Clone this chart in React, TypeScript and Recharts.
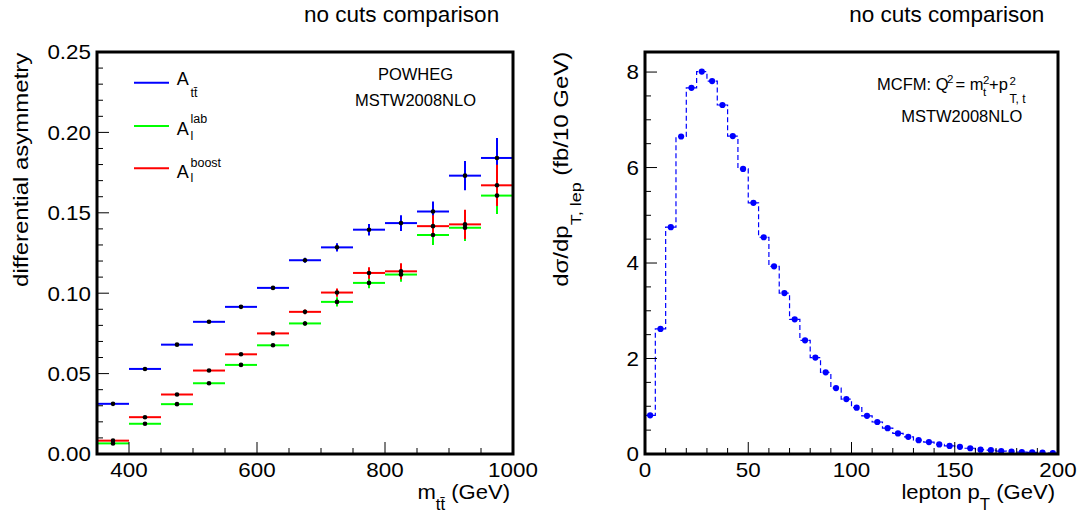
import React from 'react';
import {
  ComposedChart,
  Scatter,
  Line,
  XAxis,
  YAxis,
  ErrorBar,
  Legend,
} from 'recharts';

const FONT = '"Liberation Sans", Arial, Helvetica, sans-serif';

// ---------------- Left panel: differential asymmetry vs m_tt ----------------
const massBinCenters = [375, 425, 475, 525, 575, 625, 675, 725, 775, 825, 875, 925, 975];
const MASS_HALF_BIN = 25;

const asymTT = [0.0312, 0.0529, 0.068, 0.0822, 0.0915, 0.1033, 0.1205, 0.1285, 0.1395, 0.1436, 0.1508, 0.1731, 0.1841];
const asymTTErr = [0.0005, 0.0006, 0.0006, 0.0007, 0.0008, 0.001, 0.0015, 0.0026, 0.0036, 0.0049, 0.0062, 0.0091, 0.0124];

const asymLab = [0.0066, 0.0188, 0.031, 0.044, 0.0554, 0.0676, 0.0812, 0.0946, 0.1064, 0.1116, 0.1362, 0.1407, 0.1607];
const asymLabErr = [0.0005, 0.0006, 0.0006, 0.0007, 0.0008, 0.001, 0.0015, 0.0029, 0.0033, 0.0045, 0.0062, 0.0083, 0.0115];

const asymBoost = [0.0083, 0.0229, 0.037, 0.0519, 0.062, 0.075, 0.0884, 0.1004, 0.1126, 0.1136, 0.1417, 0.1428, 0.1671];
const asymBoostErr = [0.0005, 0.0006, 0.0006, 0.0007, 0.0008, 0.001, 0.0015, 0.0026, 0.0036, 0.005, 0.0068, 0.0091, 0.0128];

const MASS_MIN = 350;
const MASS_MAX = 1000;
const ASYM_MAX = 0.25;
const massMajorTicks = [400, 600, 800, 1000];
const massAllTicks = [400, 450, 500, 550, 600, 650, 700, 750, 800, 850, 900, 950, 1000];
const asymMajorTicks = [0, 0.05, 0.1, 0.15, 0.2, 0.25];
const asymAllTicks = Array.from({ length: 26 }, (_, i) => i / 100);

// ---------------- Right panel: lepton pT distribution ----------------
const ptBinCenters = [
  2.5, 7.5, 12.5, 17.5, 22.5, 27.5, 32.5, 37.5, 42.5, 47.5,
  52.5, 57.5, 62.5, 67.5, 72.5, 77.5, 82.5, 87.5, 92.5, 97.5,
  102.5, 107.5, 112.5, 117.5, 122.5, 127.5, 132.5, 137.5, 142.5, 147.5,
  152.5, 157.5, 162.5, 167.5, 172.5, 177.5, 182.5, 187.5, 192.5, 197.5,
];
const PT_HALF_BIN = 2.5;
const dsigmaDpt = [
  0.81, 2.62, 4.75, 6.65, 7.67, 8.01, 7.81, 7.31, 6.66, 5.97,
  5.26, 4.54, 3.93, 3.37, 2.82, 2.38, 2.02, 1.71, 1.38, 1.15,
  0.97, 0.8, 0.67, 0.54, 0.43, 0.36, 0.29, 0.25, 0.2, 0.17,
  0.15, 0.12, 0.09, 0.08, 0.06, 0.05, 0.04, 0.035, 0.03, 0.02,
];

const PT_MAX = 200;
const XS_MAX = 8.42;
const ptMajorTicks = [0, 50, 100, 150, 200];
const ptAllTicks = Array.from({ length: 21 }, (_, i) => i * 10);
const xsMajorTicks = [0, 2, 4, 6, 8];
const xsAllTicks = Array.from({ length: 17 }, (_, i) => i * 0.5);

// ---------------- data tables ----------------
const buildAsym = (vals: number[], errs: number[]) =>
  massBinCenters.map((m, i) => ({ m, a: vals[i], mErr: MASS_HALF_BIN, aErr: errs[i] }));

const asymSeries = [
  { key: 'tt', name: 'A_tt', color: '#0000ff', data: buildAsym(asymTT, asymTTErr) },
  { key: 'lab', name: 'A_l^lab', color: '#00ff00', data: buildAsym(asymLab, asymLabErr) },
  { key: 'boost', name: 'A_l^boost', color: '#ff0000', data: buildAsym(asymBoost, asymBoostErr) },
];

const ptPoints = ptBinCenters.map((pt, i) => ({ pt, xs: dsigmaDpt[i] }));
const ptStep = [
  ...ptBinCenters.map((pt, i) => ({ pt: pt - PT_HALF_BIN, xs: dsigmaDpt[i] })),
  { pt: ptBinCenters[ptBinCenters.length - 1] + PT_HALF_BIN, xs: dsigmaDpt[dsigmaDpt.length - 1] },
];

// ---------------- layout ----------------
const CHART_H = 514;
const X_AXIS_H = 30;
const Y_AXIS_W = 60;
const LEFT_CHART = { left: 0, width: 540, margin: { top: 52, right: 27, bottom: 30, left: 37 } };
const RIGHT_CHART = { left: 540, width: 545, margin: { top: 52, right: 27, bottom: 30, left: 45 } };

const plotBox = (c: typeof LEFT_CHART) => {
  const x = c.left + c.margin.left + Y_AXIS_W;
  const y = c.margin.top;
  const w = c.width - c.margin.left - Y_AXIS_W - c.margin.right;
  const h = CHART_H - c.margin.top - c.margin.bottom - X_AXIS_H;
  return { x, y, w, h };
};

// ---------------- helpers ----------------
type TxtProps = {
  x: number;
  y: number;
  size: number;
  anchor?: 'start' | 'middle' | 'end';
  rotate?: number;
  sx?: number;
  children?: React.ReactNode;
};
const Txt = ({ x, y, size, anchor = 'start', rotate = 0, sx = 1, children }: TxtProps) => (
  <text
    transform={`translate(${x} ${y}) rotate(${rotate}) scale(${sx} 1)`}
    fontSize={size}
    textAnchor={anchor}
    fontFamily={FONT}
    fill="#000"
  >
    {children}
  </text>
);

const isIn = (arr: number[], v: number) => arr.some((m) => Math.abs(m - v) < 1e-9);

const makeYTick = (majors: number[], fmt: (v: number) => string) => (props: any) => {
  const { x, y, payload } = props;
  const v = payload.value;
  const major = isIn(majors, v);
  return (
    <g>
      <line x1={x} x2={x + (major ? 12 : 6)} y1={y} y2={y} stroke="#000" strokeWidth={1} />
      {major && (
        <Txt x={x - 6} y={y + 7.3} size={20} sx={1.12} anchor="end">
          {fmt(v)}
        </Txt>
      )}
    </g>
  );
};

const makeXTick = (majors: number[], fmt: (v: number) => string) => (props: any) => {
  const { x, y, payload } = props;
  const v = payload.value;
  const major = isIn(majors, v);
  return (
    <g>
      <line x1={x} x2={x} y1={y} y2={y - (major ? 12 : 6)} stroke="#000" strokeWidth={1} />
      {major && (
        <Txt x={x} y={y + 22.7} size={20} sx={1.12} anchor="middle">
          {fmt(v)}
        </Txt>
      )}
    </g>
  );
};

const emptyShape = () => <g />;
const blackMarker = (p: any) => <circle cx={p.cx} cy={p.cy} r={2.3} fill="#000" />;
const blueDot = (p: any) => <circle cx={p.cx} cy={p.cy} r={3.1} fill="#0000ff" />;

const legendLabel = (key: string, color: string) => {
  const rows: Record<string, number> = { tt: 22.7, lab: 66, boost: 108.3 };
  const ly = rows[key];
  return (
    <g key={key}>
      <line x1={14} x2={49} y1={ly} y2={ly} stroke={color} strokeWidth={2} />
      {key === 'tt' && (
        <text fontFamily={FONT} fill="#000">
          <tspan x={56.7} y={ly + 2.5} fontSize={18}>A</tspan>
          <tspan x={70.5} y={ly + 14.5} fontSize={12.5}>{'tt\u0304'}</tspan>
        </text>
      )}
      {key === 'lab' && (
        <text fontFamily={FONT} fill="#000">
          <tspan x={56.7} y={ly + 9} fontSize={18}>A</tspan>
          <tspan x={70.5} y={ly - 2.7} fontSize={12.5}>lab</tspan>
          <tspan x={70.5} y={ly + 14} fontSize={12.5}>l</tspan>
        </text>
      )}
      {key === 'boost' && (
        <text fontFamily={FONT} fill="#000">
          <tspan x={56.7} y={ly + 10} fontSize={18}>A</tspan>
          <tspan x={70.5} y={ly - 1.6} fontSize={12.5}>boost</tspan>
          <tspan x={70.5} y={ly + 13.4} fontSize={12.5}>l</tspan>
        </text>
      )}
    </g>
  );
};

const renderLegend = (props: any) => {
  const payload = (props.payload || []).filter((p: any) => p.type !== 'none');
  return (
    <svg width={140} height={140} style={{ display: 'block', overflow: 'visible' }}>
      {payload.map((p: any) => {
        const s = asymSeries.find((q) => q.name === p.value);
        return s ? legendLabel(s.key, s.color) : null;
      })}
    </svg>
  );
};

const LeftPanel = () => (
  <ComposedChart width={LEFT_CHART.width} height={CHART_H} margin={LEFT_CHART.margin}>
    <XAxis
      type="number"
      dataKey="m"
      domain={[MASS_MIN, MASS_MAX]}
      allowDataOverflow
      ticks={massAllTicks}
      interval={0}
      height={X_AXIS_H}
      tickSize={0}
      tickMargin={0}
      axisLine={false}
      tickLine={false}
      tick={makeXTick(massMajorTicks, (v) => String(v))}
    />
    <YAxis
      type="number"
      dataKey="a"
      domain={[0, ASYM_MAX]}
      allowDataOverflow
      ticks={asymAllTicks}
      interval={0}
      width={Y_AXIS_W}
      tickSize={0}
      tickMargin={0}
      axisLine={false}
      tickLine={false}
      tick={makeYTick(asymMajorTicks, (v) => v.toFixed(2))}
    />
    {asymSeries.map((s) => (
      <Scatter
        key={`bars-${s.key}`}
        name={s.name}
        data={s.data}
        fill={s.color}
        legendType="line"
        shape={emptyShape}
        isAnimationActive={false}
      >
        <ErrorBar dataKey="mErr" direction="x" width={0} stroke={s.color} strokeWidth={2} isAnimationActive={false} />
        <ErrorBar dataKey="aErr" direction="y" width={0} stroke={s.color} strokeWidth={2} isAnimationActive={false} />
      </Scatter>
    ))}
    {asymSeries.map((s) => (
      <Scatter
        key={`pts-${s.key}`}
        name={`${s.name} points`}
        data={s.data}
        fill="#000"
        legendType="none"
        shape={blackMarker}
        isAnimationActive={false}
      />
    ))}
    <Legend
      content={renderLegend}
      layout="vertical"
      align="center"
      verticalAlign="middle"
      wrapperStyle={{ left: 120, top: 60, width: 140, height: 140 }}
    />
  </ComposedChart>
);

const RightPanel = () => (
  <ComposedChart width={RIGHT_CHART.width} height={CHART_H} margin={RIGHT_CHART.margin}>
    <XAxis
      type="number"
      dataKey="pt"
      domain={[0, PT_MAX]}
      allowDataOverflow
      ticks={ptAllTicks}
      interval={0}
      height={X_AXIS_H}
      tickSize={0}
      tickMargin={0}
      axisLine={false}
      tickLine={false}
      tick={makeXTick(ptMajorTicks, (v) => String(v))}
    />
    <YAxis
      type="number"
      dataKey="xs"
      domain={[0, XS_MAX]}
      allowDataOverflow
      ticks={xsAllTicks}
      interval={0}
      width={Y_AXIS_W}
      tickSize={0}
      tickMargin={0}
      axisLine={false}
      tickLine={false}
      tick={makeYTick(xsMajorTicks, (v) => String(v))}
    />
    <Line
      data={ptStep}
      type="stepAfter"
      dataKey="xs"
      stroke="#0000ff"
      strokeWidth={1.2}
      strokeDasharray="5 3"
      dot={false}
      activeDot={false}
      legendType="none"
      isAnimationActive={false}
    />
    <Scatter data={ptPoints} dataKey="xs" fill="#0000ff" shape={blueDot} legendType="none" isAnimationActive={false} />
  </ComposedChart>
);

const FRAME_W = 3;

const Overlay = () => (
  <svg width={1085} height={514} style={{ position: 'absolute', left: 0, top: 0, pointerEvents: 'none', zIndex: 6 }}>
    {[plotBox(LEFT_CHART), plotBox(RIGHT_CHART)].map((b, i) => (
      <rect
        key={i}
        x={b.x}
        y={b.y}
        width={b.w}
        height={b.h}
        fill="none"
        stroke="#000"
        strokeWidth={FRAME_W}
      />
    ))}

    {/* titles */}
    <Txt x={401.6} y={22} size={22.5} anchor="middle">no cuts comparison</Txt>
    <Txt x={946.8} y={22} size={22.5} anchor="middle">no cuts comparison</Txt>

    {/* left axis titles */}
    <Txt x={27.5} y={52.7} size={20} rotate={-90} sx={1.2} anchor="end">differential asymmetry</Txt>
    <Txt x={510} y={499} size={21} sx={1.05} anchor="end">
      m<tspan dy={10.5} fontSize={16}>{'tt\u0304'}</tspan>
      <tspan dy={-10.5}> (GeV)</tspan>
    </Txt>

    {/* left annotations */}
    <Txt x={415.5} y={80} size={16.5} anchor="middle">POWHEG</Txt>
    <Txt x={415.5} y={106} size={16.5} anchor="middle">MSTW2008NLO</Txt>

    {/* right axis titles */}
    <Txt x={567.5} y={51.7} size={20} rotate={-90} sx={1.2} anchor="end">
      dσ/dp<tspan dy={13} fontSize={15}>T, lep</tspan>
      <tspan dy={-13}> (fb/10 GeV)</tspan>
    </Txt>
    <Txt x={1055} y={499} size={21} sx={1.05} anchor="end">
      lepton p<tspan dy={10.5} fontSize={16}>T</tspan>
      <tspan dy={-10.5}> (GeV)</tspan>
    </Txt>

    {/* right annotations */}
    <text fontFamily={FONT} fill="#000">
      <tspan x={877} y={90} fontSize={16.5}>MCFM: Q</tspan>
      <tspan x={947} y={82.5} fontSize={11.5}>2</tspan>
      <tspan x={955.5} y={90} fontSize={16.5}>= m</tspan>
      <tspan x={983} y={95.5} fontSize={11.5}>t</tspan>
      <tspan x={983} y={84.3} fontSize={11.5}>2</tspan>
      <tspan x={989} y={90} fontSize={16.5}>+p</tspan>
      <tspan x={1009.5} y={85} fontSize={11.5}>2</tspan>
      <tspan x={1009.5} y={103.3} fontSize={12}>T, t</tspan>
    </text>
    <Txt x={961.7} y={121.7} size={16.5} anchor="middle">MSTW2008NLO</Txt>
  </svg>
);

export default function App() {
  return (
    <div
      style={{
        position: 'absolute',
        left: 0,
        top: 0,
        width: 1085,
        height: 514,
        background: '#fff',
        overflow: 'hidden',
      }}
    >
      <div style={{ position: 'absolute', left: LEFT_CHART.left, top: 0 }}>
        <LeftPanel />
      </div>
      <div style={{ position: 'absolute', left: RIGHT_CHART.left, top: 0 }}>
        <RightPanel />
      </div>
      <Overlay />
    </div>
  );
}
